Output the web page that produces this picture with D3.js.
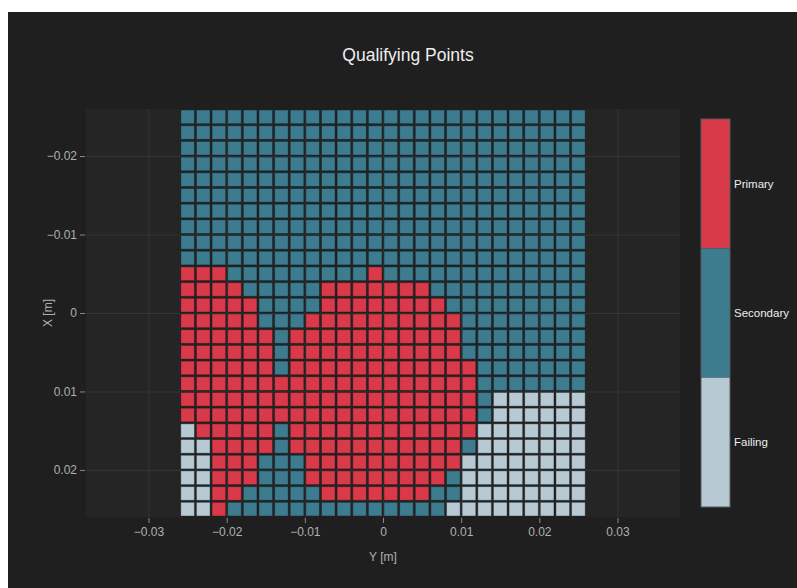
<!DOCTYPE html>
<html>
<head>
<meta charset="utf-8">
<script src="https://cdn.jsdelivr.net/npm/d3@7"></script>
<style>
  html, body { margin: 0; padding: 0; background: #fff; }
  svg { display: block; font-family: "Liberation Sans", Arial, sans-serif; }
</style>
</head>
<body>
<svg width="797" height="588"></svg>
<script>
// horizontal positions (Y [m]) and vertical positions (X [m]) of the cell centres
const yPositions = [-0.025, -0.023, -0.021, -0.019, -0.017, -0.015, -0.013, -0.011, -0.009, -0.007, -0.005, -0.003, -0.001,
  0.001, 0.003, 0.005, 0.007, 0.009, 0.011, 0.013, 0.015, 0.017, 0.019, 0.021, 0.023, 0.025];
const xPositions = [-0.025, -0.023, -0.021, -0.019, -0.017, -0.015, -0.013, -0.011, -0.009, -0.007, -0.005, -0.003, -0.001,
  0.001, 0.003, 0.005, 0.007, 0.009, 0.011, 0.013, 0.015, 0.017, 0.019, 0.021, 0.023, 0.025];

// one string per X row, one letter per Y column: P = Primary, S = Secondary, F = Failing
const statusRows = [
  "SSSSSSSSSSSSSSSSSSSSSSSSSS",
  "SSSSSSSSSSSSSSSSSSSSSSSSSS",
  "SSSSSSSSSSSSSSSSSSSSSSSSSS",
  "SSSSSSSSSSSSSSSSSSSSSSSSSS",
  "SSSSSSSSSSSSSSSSSSSSSSSSSS",
  "SSSSSSSSSSSSSSSSSSSSSSSSSS",
  "SSSSSSSSSSSSSSSSSSSSSSSSSS",
  "SSSSSSSSSSSSSSSSSSSSSSSSSS",
  "SSSSSSSSSSSSSSSSSSSSSSSSSS",
  "SSSSSSSSSSSSSSSSSSSSSSSSSS",
  "PPPSSSSSSSSSPSSSSSSSSSSSSS",
  "PPPPSSSSSPPPPPPPSSSSSSSSSS",
  "PPPPPSSSSPPPPPPPPSSSSSSSSS",
  "PPPPPSSSPPPPPPPPPPSSSSSSSS",
  "PPPPPPSPPPPPPPPPPPSSSSSSSS",
  "PPPPPPSPPPPPPPPPPPSSSSSSSS",
  "PPPPPPSPPPPPPPPPPPPSSSSSSS",
  "PPPPPPPPPPPPPPPPPPPSSSSSSS",
  "PPPPPPPPPPPPPPPPPPPSFFFFFF",
  "PPPPPPPPPPPPPPPPPPPSFFFFFF",
  "FPPPPPSPPPPPPPPPPPPFFFFFFF",
  "FFPPPPSPPPPPPPPPPPSFFFFFFF",
  "FFPPPSSSPPPPPPPPPPFFFFFFFF",
  "FFPPPSSSPPPPPPPPPSFFFFFFFF",
  "FFPPSSSSSPPPPPPPSSFFFFFFFF",
  "FFPSSSSSSSSSSSSSSFFFFFFFFF"
];

const categories = ["Primary", "Secondary", "Failing"];
const codes = ["P", "S", "F"];
const colors = ["#d93a4a", "#3d7b8f", "#b7cad4"];

const yTicks = [-0.03, -0.02, -0.01, 0, 0.01, 0.02, 0.03];
const xTicks = [-0.02, -0.01, 0, 0.01, 0.02];

const svg = d3.select("svg");

const plot = { left: 86, right: 680, top: 109, bottom: 517 };
const cell = 0.002;

const x = d3.scaleLinear().domain([-0.038, 0.038]).range([plot.left, plot.right]);
const y = d3.scaleLinear().domain([-0.026, 0.026]).range([plot.top, plot.bottom]);
const color = d3.scaleOrdinal().domain(codes).range(colors);
const fmt = d => d === 0 ? "0" : d3.format(".2f")(d);

// paper
svg.append("rect")
  .attr("x", 8).attr("y", 12)
  .attr("width", 789).attr("height", 576)
  .attr("fill", "#1f1f1f");

svg.append("rect")
  .attr("x", plot.left).attr("y", plot.top)
  .attr("width", plot.right - plot.left).attr("height", plot.bottom - plot.top)
  .attr("fill", "#252525");

// grid
svg.append("g")
  .attr("transform", `translate(0,${plot.bottom})`)
  .call(d3.axisBottom(x).tickValues(yTicks).tickSize(-(plot.bottom - plot.top)).tickFormat(""))
  .call(g => g.select(".domain").remove())
  .call(g => g.selectAll("line").attr("stroke", "#353535"));

svg.append("g")
  .attr("transform", `translate(${plot.left},0)`)
  .call(d3.axisLeft(y).tickValues(xTicks).tickSize(-(plot.right - plot.left)).tickFormat(""))
  .call(g => g.select(".domain").remove())
  .call(g => g.selectAll("line").attr("stroke", "#353535"));

// cells
const cells = [];
statusRows.forEach((row, i) => {
  row.split("").forEach((c, j) => {
    cells.push({ xv: xPositions[i], yv: yPositions[j], code: c });
  });
});

svg.append("g")
  .selectAll("rect")
  .data(cells)
  .enter()
  .append("rect")
  .attr("x", d => x(d.yv - cell / 2) + 1)
  .attr("y", d => y(d.xv - cell / 2) + 1)
  .attr("width", d => x(d.yv + cell / 2) - x(d.yv - cell / 2) - 2)
  .attr("height", d => y(d.xv + cell / 2) - y(d.xv - cell / 2) - 2)
  .attr("fill", d => color(d.code))
  .attr("stroke", "rgba(0,0,0,0.32)")
  .attr("stroke-width", 1);

// axes
const xAxis = svg.append("g")
  .attr("transform", `translate(0,${plot.bottom + 1})`)
  .call(d3.axisBottom(x).tickValues(yTicks).tickSize(5).tickPadding(4).tickFormat(fmt));
xAxis.select(".domain").remove();
xAxis.selectAll("line").attr("stroke", "#8a8a8a");
xAxis.selectAll("text").attr("fill", "#b0b0b0").attr("font-size", 12).attr("font-family", null);

const yAxis = svg.append("g")
  .attr("transform", `translate(${plot.left - 1},0)`)
  .call(d3.axisLeft(y).tickValues(xTicks).tickSize(5).tickPadding(3).tickFormat(fmt));
yAxis.select(".domain").remove();
yAxis.selectAll("line").attr("stroke", "#8a8a8a");
yAxis.selectAll("text").attr("fill", "#b0b0b0").attr("font-size", 12).attr("font-family", null);

svg.append("text")
  .attr("x", x(0)).attr("y", 561)
  .attr("text-anchor", "middle")
  .attr("fill", "#b0b0b0").attr("font-size", 12)
  .text("Y [m]");

svg.append("text")
  .attr("transform", `translate(52,${y(0)}) rotate(-90)`)
  .attr("text-anchor", "middle")
  .attr("fill", "#b0b0b0").attr("font-size", 12)
  .text("X [m]");

// title
svg.append("text")
  .attr("x", 408).attr("y", 61)
  .attr("text-anchor", "middle")
  .attr("fill", "#eee").attr("font-size", 17.5)
  .text("Qualifying Points");

// colorbar
const bar = { x: 701, w: 29, top: 119, bottom: 507 };
const barY = d3.scaleBand().domain(categories).range([bar.top, bar.bottom]);

const legend = svg.append("g");
legend.selectAll("rect")
  .data(categories)
  .enter()
  .append("rect")
  .attr("x", bar.x)
  .attr("y", d => barY(d))
  .attr("width", bar.w)
  .attr("height", barY.bandwidth())
  .attr("fill", (d, i) => colors[i]);

legend.append("rect")
  .attr("x", bar.x).attr("y", bar.top)
  .attr("width", bar.w).attr("height", bar.bottom - bar.top)
  .attr("fill", "none")
  .attr("stroke", "#5a5a5a");

legend.selectAll("text")
  .data(categories)
  .enter()
  .append("text")
  .attr("x", bar.x + bar.w + 4)
  .attr("y", d => barY(d) + barY.bandwidth() / 2 + 4)
  .attr("fill", "#eee")
  .attr("font-size", 11.5)
  .text(d => d);
</script>
</body>
</html>
